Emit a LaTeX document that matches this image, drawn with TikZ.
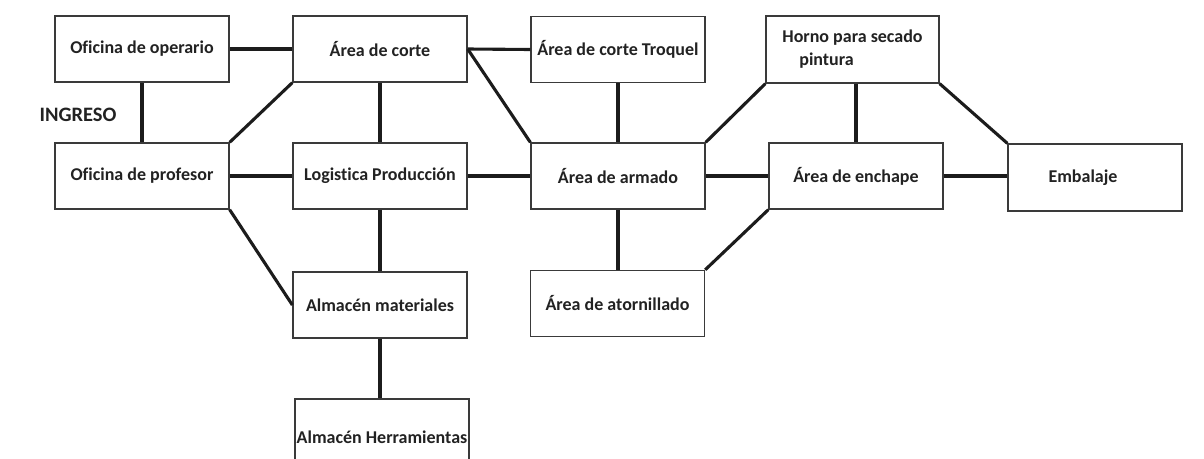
\documentclass[tikz,border=0pt]{standalone}
\usepackage{fontspec}
\setmainfont{Carlito}[Ligatures={NoCommon}]
\definecolor{txt}{HTML}{222222}
\definecolor{edge}{HTML}{1C1C1C}
\definecolor{frame}{HTML}{3A3A3A}
\begin{document}
\begin{tikzpicture}[x=1pt,y=-1pt,
  box/.style={draw=frame,line width=1.3pt,fill=white,minimum width=174pt,minimum height=66pt,inner sep=0pt,font=\fontsize{18}{23}\selectfont\bfseries,text=txt,align=center},
  conn/.style={draw=edge,line width=3.1pt}]
\useasboundingbox (0,0) rectangle (1204,458);
\node[box] (opr) at (142,49) {Oficina de operario};
\node[box] (corte) at (380,49) {Área de corte};
\node[box] (troq) at (618,49.5) {Área de corte Troquel};
\node[box,align=left,minimum width=173pt,minimum height=67pt] (horno) at (852.5,49.5) {Horno para secado\\\hspace*{17pt}pintura};
\node[box] (prof) at (142,176) {Oficina de profesor};
\node[box] (logi) at (380,176) {Logistica Producción};
\node[box] (arm) at (618,176) {Área de armado};
\node[box] (ench) at (856,176) {Área de enchape};
\node[box,minimum height=67pt] (emb) at (1095,177.5) {\hspace*{-12pt}Embalaje\hspace*{12pt}};
\node[box] (almm) at (380,305) {Almacén materiales};
\node[box] (ator) at (617.5,303.5) {Área de atornillado};
\node[box,minimum height=76pt] (almh) at (382,437) {Almacén Herramientas};
\node[font=\fontsize{20.5}{24}\selectfont\bfseries,text=txt] (ing) at (78,115) {INGRESO};
\draw[conn] (opr.east) -- (corte.west);
\draw[conn] (opr.south) -- (prof.north);
\draw[conn] (corte.south west) -- (prof.north east);
\draw[conn] (corte.south) -- (logi.north);
\draw[conn] (prof.east) -- (logi.west);
\draw[conn] (prof.south east) -- (almm.west);
\draw[conn] (logi.south) -- (almm.north);
\draw[conn] (almm.south) -- (almh.north -| almm.south);
\draw[conn] (corte.east) -- (troq.west);
\draw[conn] (corte.east) -- (arm.north west);
\draw[conn] (troq.south) -- (arm.north);
\draw[conn] (logi.east) -- (arm.west);
\draw[conn] (arm.north east) -- (horno.south west);
\draw[conn] (arm.east) -- (ench.west);
\draw[conn] (horno.south -| ench.north) -- (ench.north);
\draw[conn] (horno.south east) -- (emb.north west);
\draw[conn] (ench.east) -- (emb.west |- ench.east);
\draw[conn] (ench.south west) -- (ator.north east);
\draw[conn] (arm.south) -- (ator.north -| arm.south);
\end{tikzpicture}
\end{document}
